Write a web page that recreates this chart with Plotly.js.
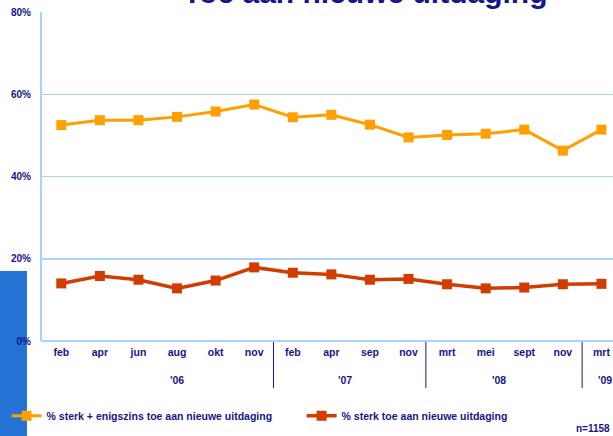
<!DOCTYPE html>
<html>
<head>
<meta charset="utf-8">
<script src="https://cdn.plot.ly/plotly-3.0.1.min.js"></script>
<style>
html,body{margin:0;padding:0;background:#fff;}
#chart{width:613px;height:436px;}
</style>
</head>
<body>
<div id="chart"></div>
<script>
var monthLabels = ["feb","apr","jun","aug","okt","nov","feb","apr","sep","nov","mrt","mei","sept","nov","mrt"];
var seriesNames = ["% sterk + enigszins toe aan nieuwe uitdaging", "% sterk toe aan nieuwe uitdaging"];
var sterkEnigszins = [52.5, 53.7, 53.7, 54.5, 55.8, 57.5, 54.4, 55.0, 52.6, 49.5, 50.1, 50.4, 51.4, 46.3, 51.4];
var sterk = [14.0, 15.8, 14.9, 12.8, 14.7, 17.9, 16.6, 16.2, 14.9, 15.1, 13.8, 12.8, 13.0, 13.8, 13.9];
var yearLabels = ["'06", "'07", "'08", "'09"];
var yearPos = [3, 7.35, 11.35, 14.1];
var yearBreaks = [5.5, 9.45, 13.5];
var yTicks = [0, 20, 40, 60, 80];
var yTickLabels = ["0%", "20%", "40%", "60%", "80%"];
var titleText = "Toe aan nieuwe uitdaging";
var noteText = "n=1158";

var idx = monthLabels.map(function(_, i){ return i; });
var navy = "#16168a";
var fontFam = "Liberation Sans, Arial, sans-serif";

var traces = [
  {x: idx, y: sterkEnigszins, name: seriesNames[0], type: "scatter", mode: "lines+markers",
   line: {color: "#ff9f00", width: 3}, marker: {symbol: "square", size: 10, color: "#ff9f00"}},
  {x: idx, y: sterk, name: seriesNames[1], type: "scatter", mode: "lines+markers",
   line: {color: "#d33c00", width: 3.5}, marker: {symbol: "square", size: 10, color: "#d33c00"}}
];

var shapes = [
  {type: "rect", xref: "paper", yref: "paper", x0: -0.08, x1: -0.0263, y0: -0.3, y1: 0.2128,
   fillcolor: "#2472d4", line: {width: 0}, layer: "below"}
];
yearBreaks.forEach(function(b){
  shapes.push({type: "line", xref: "x", yref: "paper", x0: b, x1: b, y0: -0.003, y1: -0.143,
    line: {color: navy, width: 1}});
});

var annotations = [
  {text: titleText, xref: "paper", yref: "paper", x: 0.566, y: 1.003, xanchor: "center", yanchor: "bottom",
   showarrow: false, font: {family: fontFam, size: 30, color: navy, weight: "bold"}},
  {text: noteText, xref: "paper", yref: "paper", x: 0.998, y: -0.265, xanchor: "right", yanchor: "middle",
   showarrow: false, font: {family: fontFam, size: 10, color: navy, weight: "bold"}}
];
yearLabels.forEach(function(t, i){
  annotations.push({text: t, xref: "x", yref: "paper", x: yearPos[i], y: -0.12, xanchor: "center", yanchor: "middle",
    showarrow: false, font: {family: fontFam, size: 10.5, color: navy, weight: "bold"}});
});

var layout = {
  width: 613, height: 436,
  margin: {l: 42, r: 0, t: 12, b: 95},
  paper_bgcolor: "#fff", plot_bgcolor: "#fff",
  showlegend: true,
  legend: {orientation: "h", x: -0.062, y: -0.227, xanchor: "left", yanchor: "middle",
    font: {family: fontFam, size: 10.5, color: navy, weight: "bold"},
    entrywidth: 250, entrywidthmode: "pixels", bgcolor: "rgba(0,0,0,0)"},
  xaxis: {range: [-0.5, 14.3], tickmode: "array", tickvals: idx, ticktext: monthLabels,
    showgrid: false, zeroline: false, showline: false, ticks: "", ticklabelstandoff: 3,
    tickfont: {family: fontFam, size: 10.5, color: navy, weight: "bold"}},
  yaxis: {range: [0, 80], tickmode: "array", tickvals: yTicks, ticktext: yTickLabels,
    showgrid: true, gridcolor: "#a8d2ff", gridwidth: 1.5, zeroline: true, zerolinecolor: "#a8d2ff", zerolinewidth: 1.5,
    showline: true, linecolor: "#a8d2ff", linewidth: 2, ticks: "", ticklabelstandoff: 7,
    tickfont: {family: fontFam, size: 10, color: navy, weight: "bold"}},
  shapes: shapes,
  annotations: annotations
};

Plotly.newPlot("chart", traces, layout, {displayModeBar: false, staticPlot: true});
</script>
</body>
</html>
